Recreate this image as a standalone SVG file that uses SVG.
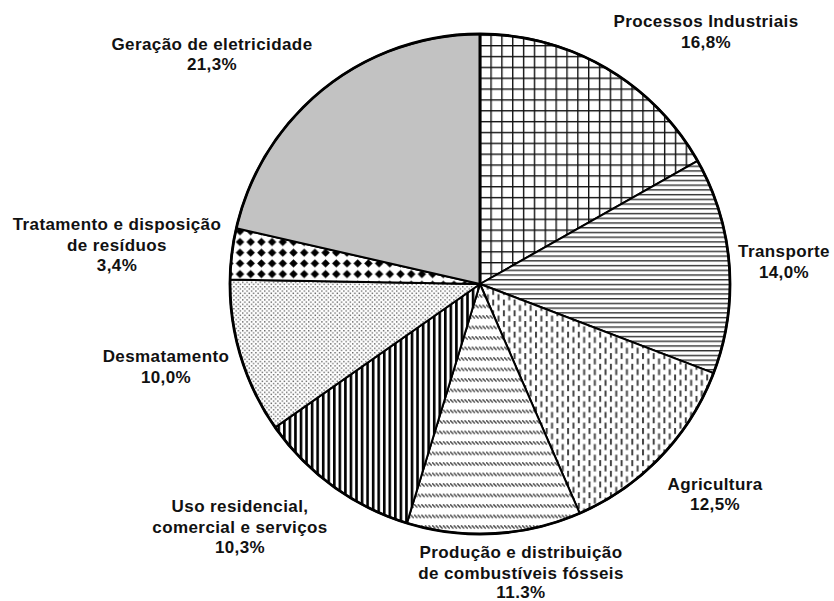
<svg xmlns="http://www.w3.org/2000/svg" width="834" height="601" viewBox="0 0 834 601">
<style>
  .lbl { font-family: "Liberation Sans", Arial, sans-serif; font-weight: bold; font-size: 17px; letter-spacing: 0.4px; fill: #111; text-anchor: middle; }
  .slice { stroke: #000; stroke-width: 2; stroke-linejoin: round; }
  .rim { fill: none; stroke: #000; stroke-width: 2.8; }
</style>
<defs>
  <pattern id="pGrid" patternUnits="userSpaceOnUse" x="479.5" y="45" width="10.85" height="10.85">
    <rect width="10.85" height="10.85" fill="#fff"/>
    <rect x="0" y="0" width="1.4" height="10.85" fill="#111"/>
    <rect x="0" y="0" width="10.85" height="1.4" fill="#111"/>
  </pattern>
  <pattern id="pHoriz" patternUnits="userSpaceOnUse" x="0" y="0" width="10" height="4.73">
    <rect width="10" height="4.73" fill="#fff"/>
    <rect x="0" y="0" width="10" height="1.4" fill="#333"/>
  </pattern>
  <pattern id="pDash" patternUnits="userSpaceOnUse" x="0" y="0" width="10.7" height="10.7">
    <rect width="10.7" height="10.7" fill="#fff"/>
    <rect x="0" y="0" width="2" height="6" fill="#444"/>
    <rect x="5.35" y="5.35" width="2" height="6" fill="#444"/>
    <rect x="5.35" y="-5.35" width="2" height="6" fill="#444"/>
  </pattern>
  <pattern id="pSlash" patternUnits="userSpaceOnUse" x="0" y="0" width="3.6" height="10.5">
    <rect width="3.6" height="10.5" fill="#fff"/>
    <line x1="0.2" y1="0.3" x2="3.4" y2="3.6" stroke="#444" stroke-width="1.4"/>
  </pattern>
  <pattern id="pVert" patternUnits="userSpaceOnUse" x="0" y="0" width="5.55" height="10">
    <rect width="5.55" height="10" fill="#fff"/>
    <rect x="0" y="0" width="2.6" height="10" fill="#000"/>
  </pattern>
  <pattern id="pDots" patternUnits="userSpaceOnUse" x="0" y="0" width="4.4" height="4.4">
    <rect width="4.4" height="4.4" fill="#fff"/>
    <rect x="0" y="0" width="1.4" height="1.4" fill="#666"/>
    <rect x="2.2" y="2.2" width="1.4" height="1.4" fill="#666"/>
  </pattern>
  <pattern id="pDiam" patternUnits="userSpaceOnUse" x="234.65" y="236.65" width="10.7" height="10.7">
    <rect width="10.7" height="10.7" fill="#fff"/>
    <polygon points="5.35,1.1 9.6,5.35 5.35,9.6 1.1,5.35" fill="#000"/>
  </pattern>
</defs>

<g id="slice-processos">
  <path class="slice" fill="url(#pGrid)" d="M480,284 L480,34 A250,250 0 0,1 697.6,160.9 Z"/>
  <text class="lbl" x="706" y="27">Processos Industriais</text>
  <text class="lbl" x="706" y="48">16,8%</text>
</g>
<g id="slice-transporte">
  <path class="slice" fill="url(#pHoriz)" d="M480,284 L697.6,160.9 A250,250 0 0,1 713.6,373.1 Z"/>
  <text class="lbl" x="784" y="257">Transporte</text>
  <text class="lbl" x="784" y="278">14,0%</text>
</g>
<g id="slice-agricultura">
  <path class="slice" fill="url(#pDash)" d="M480,284 L713.6,373.1 A250,250 0 0,1 579.7,513.3 Z"/>
  <text class="lbl" x="715" y="490">Agricultura</text>
  <text class="lbl" x="715" y="510">12,5%</text>
</g>
<g id="slice-producao">
  <path class="slice" fill="url(#pSlash)" d="M480,284 L579.7,513.3 A250,250 0 0,1 406.9,523.1 Z"/>
  <text class="lbl" x="521" y="558">Produção e distribuição</text>
  <text class="lbl" x="521" y="579">de combustíveis fósseis</text>
  <text class="lbl" x="521" y="598">11.3%</text>
</g>
<g id="slice-uso">
  <path class="slice" fill="url(#pVert)" d="M480,284 L406.9,523.1 A250,250 0 0,1 275.2,427.4 Z"/>
  <text class="lbl" x="240" y="512">Uso residencial,</text>
  <text class="lbl" x="240" y="533">comercial e serviços</text>
  <text class="lbl" x="240" y="553">10,3%</text>
</g>
<g id="slice-desmatamento">
  <path class="slice" fill="url(#pDots)" d="M480,284 L275.2,427.4 A250,250 0 0,1 230,279.6 Z"/>
  <text class="lbl" x="166" y="362">Desmatamento</text>
  <text class="lbl" x="166" y="383">10,0%</text>
</g>
<g id="slice-tratamento">
  <path class="slice" fill="url(#pDiam)" d="M480,284 L230,279.6 A250,250 0 0,1 236.3,228.2 Z"/>
  <text class="lbl" x="117" y="230">Tratamento e disposição</text>
  <text class="lbl" x="117" y="251">de resíduos</text>
  <text class="lbl" x="117" y="271">3,4%</text>
</g>
<g id="slice-geracao">
  <path class="slice" fill="#c2c2c2" d="M480,284 L236.3,228.2 A250,250 0 0,1 480,34 Z"/>
  <text class="lbl" x="212" y="50">Geração de eletricidade</text>
  <text class="lbl" x="212" y="70">21,3%</text>
</g>
<g id="connectors">
  <circle class="rim" cx="480" cy="284" r="250"/>
  <line x1="480" y1="284" x2="480" y2="34" stroke="#000" stroke-width="3"/>
</g>
</svg>
